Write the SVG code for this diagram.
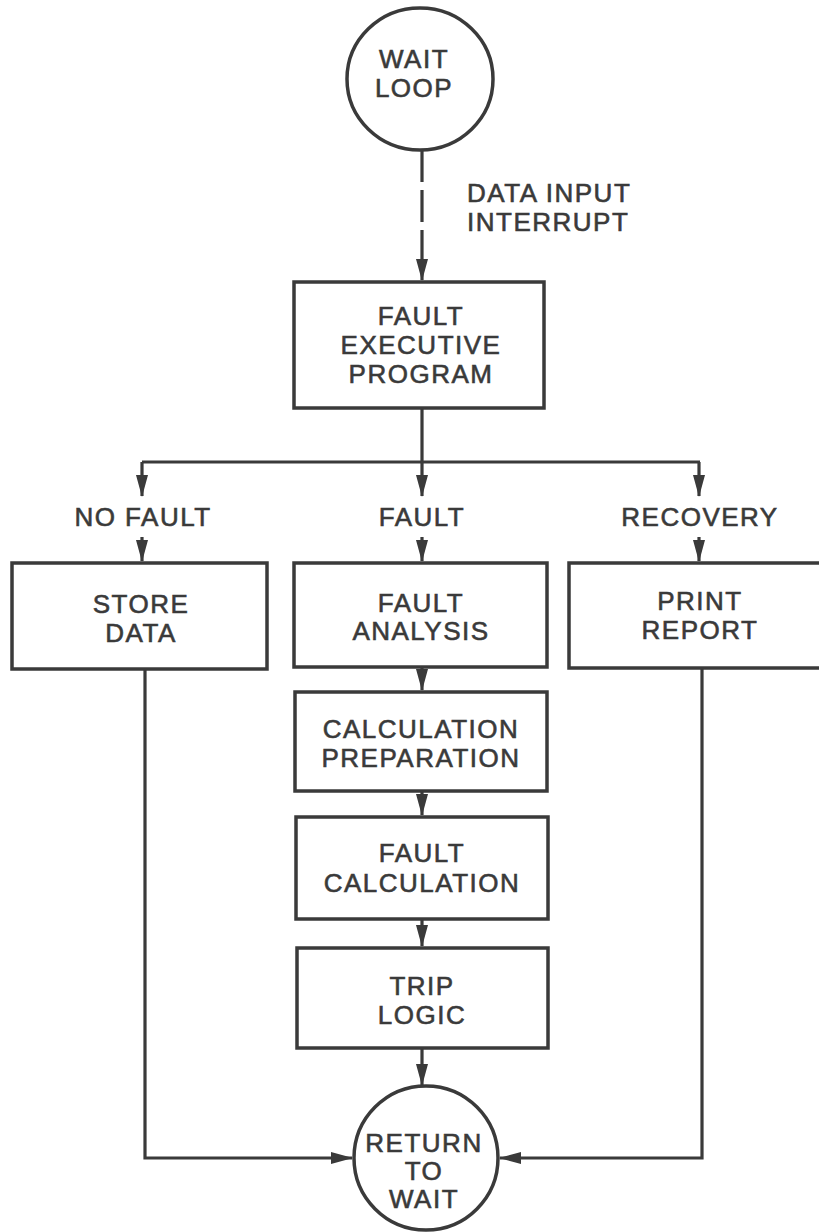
<svg xmlns="http://www.w3.org/2000/svg" width="819" height="1232" viewBox="0 0 819 1232">
<style>
.box{fill:#fff;stroke:#3a3a3a;stroke-width:3.5}
.ln{fill:none;stroke:#3a3a3a;stroke-width:3.2}
.t{font-family:"Liberation Sans",Arial,sans-serif;font-size:26px;fill:#3a3a3a;stroke:#3a3a3a;stroke-width:0.6;letter-spacing:1.5px;text-anchor:middle}
</style>
<defs>
<marker id="ah" markerUnits="userSpaceOnUse" markerWidth="22" markerHeight="12" viewBox="0 0 22 12" refX="21" refY="6" orient="auto">
<path d="M0,0 L22,6 L0,12 Z" fill="#3a3a3a"/>
</marker>
</defs>
<rect width="819" height="1232" fill="#fff"/>
<g id="connectors">
<path class="ln" d="M422,150 V280" stroke-dasharray="32 8" marker-end="url(#ah)"/>
<path class="ln" d="M422,408 V462"/>
<path class="ln" d="M142,462 H700"/>
<path class="ln" d="M142,462 V496" marker-end="url(#ah)"/>
<path class="ln" d="M422,462 V496" marker-end="url(#ah)"/>
<path class="ln" d="M699,462 V496" marker-end="url(#ah)"/>
<path class="ln" d="M142,537 V561" marker-end="url(#ah)"/>
<path class="ln" d="M422,537 V561" marker-end="url(#ah)"/>
<path class="ln" d="M699,537 V561" marker-end="url(#ah)"/>
<path class="ln" d="M422,667 V690" marker-end="url(#ah)"/>
<path class="ln" d="M422,791 V815" marker-end="url(#ah)"/>
<path class="ln" d="M422,919 V946" marker-end="url(#ah)"/>
<path class="ln" d="M422,1048 V1085" marker-end="url(#ah)"/>
<path class="ln" d="M145,669 V1158 H352" marker-end="url(#ah)"/>
<path class="ln" d="M702,668 V1158 H500" marker-end="url(#ah)"/>
<text class="t" x="467" y="202" style="text-anchor:start">DATA INPUT</text>
<text class="t" x="467" y="231" style="text-anchor:start">INTERRUPT</text>
<text class="t" x="143" y="526">NO FAULT</text>
<text class="t" x="422" y="526">FAULT</text>
<text class="t" x="700" y="526">RECOVERY</text>
</g>
<g id="wait-loop">
<ellipse class="box" cx="420" cy="79" rx="73" ry="71"/>
<text class="t" x="414" y="68">WAIT</text>
<text class="t" x="414" y="97">LOOP</text>
</g>
<g id="fault-executive">
<rect class="box" x="294" y="282" width="250" height="126"/>
<text class="t" x="421" y="325">FAULT</text>
<text class="t" x="421" y="354">EXECUTIVE</text>
<text class="t" x="421" y="383">PROGRAM</text>
</g>
<g id="store-data">
<rect class="box" x="12" y="563" width="255" height="106"/>
<text class="t" x="141" y="613">STORE</text>
<text class="t" x="141" y="642">DATA</text>
</g>
<g id="fault-analysis">
<rect class="box" x="294" y="563" width="253" height="104"/>
<text class="t" x="421" y="612">FAULT</text>
<text class="t" x="421" y="640">ANALYSIS</text>
</g>
<g id="print-report">
<rect class="box" x="569" y="563" width="262" height="105"/>
<text class="t" x="700" y="610">PRINT</text>
<text class="t" x="700" y="639">REPORT</text>
</g>
<g id="calc-prep">
<rect class="box" x="295" y="692" width="252" height="99"/>
<text class="t" x="421" y="738">CALCULATION</text>
<text class="t" x="421" y="767">PREPARATION</text>
</g>
<g id="fault-calc">
<rect class="box" x="296" y="817" width="252" height="102"/>
<text class="t" x="422" y="862">FAULT</text>
<text class="t" x="422" y="892">CALCULATION</text>
</g>
<g id="trip-logic">
<rect class="box" x="297" y="948" width="251" height="100"/>
<text class="t" x="422" y="995">TRIP</text>
<text class="t" x="422" y="1024">LOGIC</text>
</g>
<g id="return-to-wait">
<ellipse class="box" cx="426" cy="1158" rx="72" ry="72"/>
<text class="t" x="424" y="1152">RETURN</text>
<text class="t" x="424" y="1180">TO</text>
<text class="t" x="424" y="1208">WAIT</text>
</g>
</svg>
